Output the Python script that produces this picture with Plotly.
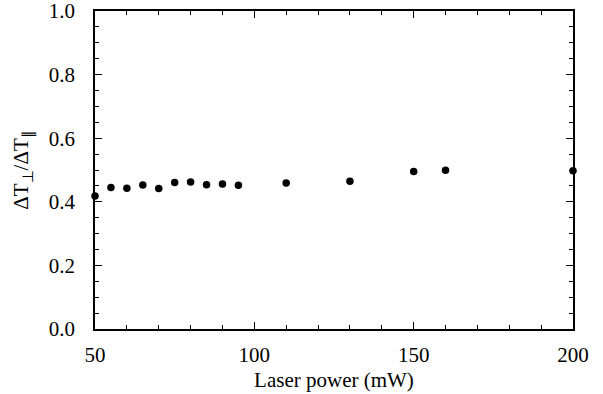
import plotly.graph_objects as go

laser_power = [50, 55, 60, 65, 70, 75, 80, 85, 90, 95, 110, 130, 150, 160, 200]
ratio = [0.418, 0.445, 0.443, 0.453, 0.442, 0.461, 0.462, 0.454, 0.456, 0.452,
         0.459, 0.465, 0.495, 0.499, 0.498]

FONT = "Liberation Serif, Times New Roman, serif"
FS = 21

fig = go.Figure()
fig.add_trace(go.Scatter(
    x=laser_power, y=ratio, mode="markers",
    marker=dict(color="black", size=7.5),
    cliponaxis=False, showlegend=False, hoverinfo="skip",
))

axis_common = dict(
    showline=True, linecolor="black", linewidth=1.5, mirror="ticks",
    ticks="inside", ticklen=7, tickwidth=1.2, tickcolor="black",
    showgrid=False, zeroline=False, ticklabeloverflow="allow", automargin=False,
    tickfont=dict(family=FONT, size=FS, color="black"),
)

fig.update_xaxes(
    range=[50, 200], tick0=50, dtick=50,
    minor=dict(ticks="inside", ticklen=4, tickwidth=1, tickcolor="black", dtick=10),
    ticklabelstandoff=6,
    title=dict(text="Laser power (mW)", font=dict(family=FONT, size=FS, color="black"), standoff=6),
    **axis_common,
)
fig.update_yaxes(
    range=[0, 1.0], tick0=0, dtick=0.2, tickformat=".1f",
    minor=dict(ticks="inside", ticklen=4, tickwidth=1, tickcolor="black", dtick=0.05),
    ticklabelstandoff=14,
    title=dict(text="ΔT<sub>⊥</sub>/ΔT<sub>∥</sub>", font=dict(family=FONT, size=FS, color="black"), standoff=14),
    **axis_common,
)

fig.update_layout(
    width=603, height=394,
    margin=dict(l=95, r=30, t=11, b=65, autoexpand=False),
    paper_bgcolor="white", plot_bgcolor="white",
)

# remove the page's default 8px body margin so the figure fills the window
fig.write_html("out.html", config={"displayModeBar": False},
               post_script="document.body.style.margin='0';")
